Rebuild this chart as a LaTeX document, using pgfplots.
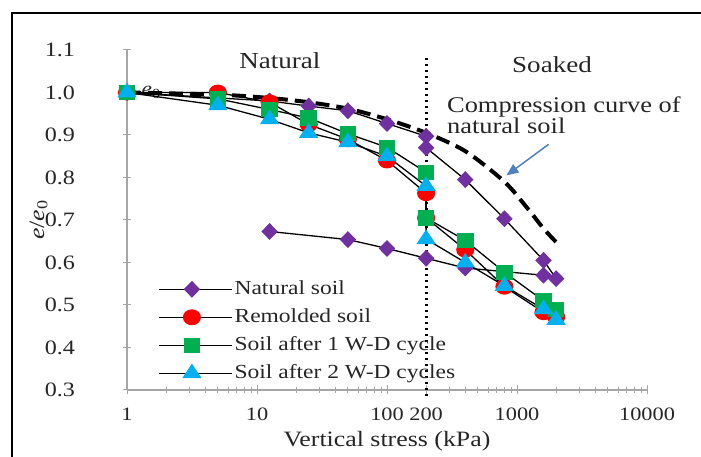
\documentclass[border=0pt]{standalone}
\usepackage{fontspec}
\setmainfont{Liberation Serif}[FakeStretch=1.18]
\usepackage{pgfplots}
\pgfplotsset{compat=1.18}
\usetikzlibrary{arrows.meta}

\definecolor{natpurple}{HTML}{7030A0}
\definecolor{remred}{HTML}{FF0000}
\definecolor{wdgreen}{HTML}{00B050}
\definecolor{wdcyan}{HTML}{00B0F0}
\definecolor{axgray}{HTML}{A6A6A6}
\definecolor{arrowblue}{HTML}{4F81BD}
\definecolor{txt}{HTML}{262626}

\begin{document}
\begin{tikzpicture}
\useasboundingbox (0,0) rectangle (701bp,457bp);
% outer frame (open at right and bottom, as cropped)
\draw[line width=1.8bp] (12bp,0) -- (12bp,444bp) -- (701bp,444bp);

\begin{axis}[
    at={(127bp,67bp)}, anchor=south west,
    scale only axis,
    width=520bp, height=340bp,
    xmode=log,
    xmin=1, xmax=10000,
    ymin=0.3, ymax=1.1,
    axis x line=bottom, axis y line=left,
    axis line style={-, axgray, line width=1.2bp},
    tick style={axgray, line width=1bp},
    tick align=center,
    major tick length=9bp, minor tick length=6bp,
    xtick={1,10,100,200,1000,10000},
    xticklabels={1,10,100,200,1000,10000},
    minor xtick={2,3,4,5,6,7,8,9,20,30,40,50,60,70,80,90,300,400,500,600,700,800,900,2000,3000,4000,5000,6000,7000,8000,9000},
    ytick={0.3,0.4,0.5,0.6,0.7,0.8,0.9,1.0,1.1},
    yticklabels={0.3,0.4,0.5,0.6,0.7,0.8,0.9,1.0,1.1},
    ticklabel style={text=txt},
    yticklabel style={xshift=-44bp, font=\fontsize{20.5}{22}\selectfont},
    xticklabel style={yshift=-10bp, font=\fontsize{19}{21}\selectfont},
    xlabel={Vertical stress (kPa)},
    ylabel={\textit{e}/\textit{e}\textsubscript{0}},
    every axis x label/.style={at={(axis description cs:0.5,-0.152)}, anchor=center,
        font=\fontsize{22}{24}\selectfont, text=txt},
    every axis y label/.style={at={(axis description cs:-0.17,0.5)}, anchor=center, rotate=90,
        font=\fontsize{22}{24}\selectfont, text=txt},
    clip=false,
    legend style={
        at={(0.054,0.335)}, anchor=north west,
        draw=none, fill=none,
        font=\fontsize{20}{22}\selectfont, text=txt,
        row sep=6bp,
        nodes={inner sep=2bp, text height=14bp, text depth=4bp},
        cells={anchor=west},
    },
    legend image code/.code={
        \path (0bp,0bp) -- (73bp,0bp);
        \draw[mark repeat=2, mark phase=2, #1]
            plot coordinates {(0bp,0bp) (33bp,0bp) (66bp,0bp)};
    },
]

% e_0 label at the start of the curves
\node[font=\fontsize{20}{22}\selectfont, text=txt, anchor=west] at (axis cs:1.22,1.0) {\textit{e}\textsubscript{0}};

% compression curve of natural soil
\addplot[black, line width=4bp, dash pattern=on 14bp off 7bp, smooth, forget plot] coordinates {
    (1,1.0) (5,0.995) (12.5,0.987) (25,0.977) (50,0.962) (100,0.937) (200,0.905)
    (400,0.862) (800,0.79) (1200,0.728) (1600,0.68) (2000,0.648)
};

% Natural soil
\addplot[black, line width=1.3bp, mark=diamond*, mark size=7.5bp,
    mark options={solid, fill=natpurple, draw=natpurple, xscale=1.3}] coordinates {
    (1,1.0) (12.5,0.98) (25,0.968) (50,0.957) (100,0.927) (200,0.897) (200,0.87)
    (400,0.795) (800,0.703) (1600,0.605) (2000,0.562) (1600,0.57) (400,0.587)
    (200,0.61) (100,0.633) (50,0.654) (12.5,0.673)
};
\addlegendentry{Natural soil}

% Remolded soil
\addplot[black, line width=1.3bp, mark=*, mark size=7.3bp,
    mark options={solid, fill=remred, draw=remred, xscale=1.15}] coordinates {
    (1,1.0) (5,1.0) (12.5,0.977) (25,0.925) (50,0.89) (100,0.84) (200,0.763)
    (200,0.705) (400,0.63) (800,0.543) (1600,0.483) (2000,0.472)
};
\addlegendentry{Remolded soil}

% Soil after 1 W-D cycle
\addplot[black, line width=1.3bp, mark=square*, mark size=7bp,
    mark options={solid, fill=wdgreen, draw=wdgreen, xscale=1.1}] coordinates {
    (1,1.0) (5,0.985) (12.5,0.96) (25,0.94) (50,0.903) (100,0.871) (200,0.812)
    (200,0.705) (400,0.652) (800,0.577) (1600,0.51) (2000,0.49)
};
\addlegendentry{Soil after 1 W-D cycle}

% Soil after 2 W-D cycles
\addplot[black, line width=1.3bp, mark=triangle*, mark size=8.5bp,
    mark options={solid, fill=wdcyan, draw=wdcyan, xscale=1.15}] coordinates {
    (1,1.0) (5,0.97) (12.5,0.937) (25,0.905) (50,0.883) (100,0.85) (200,0.78)
    (200,0.655) (400,0.60) (800,0.545) (1600,0.49) (2000,0.465)
};
\addlegendentry{Soil after 2 W-D cycles}

% natural / soaked boundary at 200 kPa
\addplot[black, line width=2.8bp, dash pattern=on 2.8bp off 3.2bp, forget plot] coordinates {
    (200,0.285) (200,1.085)
};

% annotations
\node[font=\fontsize{23}{24}\selectfont, text=txt] at (axis cs:15,1.076) {Natural};
\node[font=\fontsize{23}{24}\selectfont, text=txt] at (axis cs:1859,1.065) {Soaked};
\node[font=\fontsize{22.5}{24}\selectfont, text=txt, anchor=base west, inner sep=0pt]
    at (axis cs:289,0.9538) {Compression curve of};
\node[font=\fontsize{22.5}{24}\selectfont, text=txt, anchor=base west, inner sep=0pt]
    at (axis cs:289,0.903) {natural soil};
\draw[arrowblue, line width=1.5bp, -{Triangle[length=12bp, width=10bp]}]
    (axis cs:1750,0.878) -- (axis cs:830,0.805);

\end{axis}
\end{tikzpicture}
\end{document}
